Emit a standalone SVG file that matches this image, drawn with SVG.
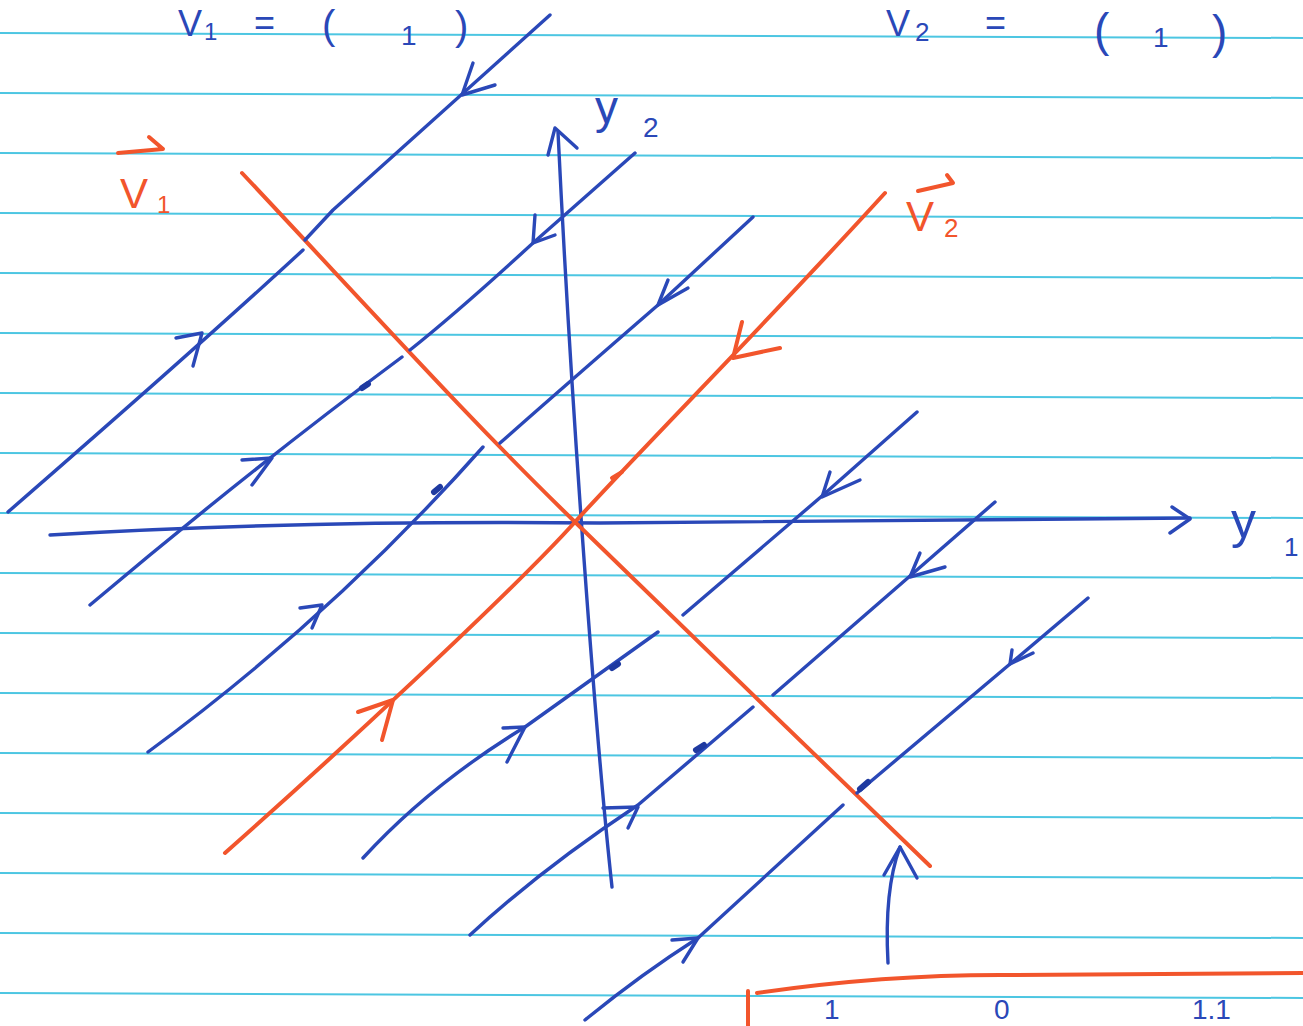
<svg xmlns="http://www.w3.org/2000/svg" width="1303" height="1026" viewBox="0 0 1303 1026">
<style>
.rule{stroke:#4cc6e2;stroke-width:2;fill:none}
.b{stroke:#2a48b8;stroke-width:3.4;fill:none;stroke-linecap:round;stroke-linejoin:round}
.o{stroke:#f2552c;stroke-width:4;fill:none;stroke-linecap:round;stroke-linejoin:round}
.dot{stroke:#1f3aa0;stroke-width:6;stroke-linecap:round;fill:none}
.tb{font-family:"Liberation Sans",Arial,sans-serif;fill:#2a48b8}
.to{font-family:"Liberation Sans",Arial,sans-serif;fill:#f2552c}
</style>
<rect width="1303" height="1026" fill="#ffffff"/>
<g id="ruled-paper">
<path class="rule" d="M0,33 L1303,38"/>
<path class="rule" d="M0,93 L1303,98"/>
<path class="rule" d="M0,153 L1303,158"/>
<path class="rule" d="M0,213 L1303,218"/>
<path class="rule" d="M0,273 L1303,278"/>
<path class="rule" d="M0,333 L1303,338"/>
<path class="rule" d="M0,393 L1303,398"/>
<path class="rule" d="M0,453 L1303,458"/>
<path class="rule" d="M0,513 L1303,518"/>
<path class="rule" d="M0,573 L1303,578"/>
<path class="rule" d="M0,633 L1303,638"/>
<path class="rule" d="M0,693 L1303,698"/>
<path class="rule" d="M0,753 L1303,758"/>
<path class="rule" d="M0,813 L1303,818"/>
<path class="rule" d="M0,873 L1303,878"/>
<path class="rule" d="M0,933 L1303,938"/>
<path class="rule" d="M0,993 L1303,998"/>
</g>
<g id="header-text">
<text class="tb" x="178" y="36" font-size="36">V</text>
<text class="tb" x="204" y="40" font-size="24">1</text>
<text class="tb" x="254" y="35" font-size="36">=</text>
<text class="tb" x="322" y="39" font-size="40">(</text>
<text class="tb" x="401" y="45" font-size="28">1</text>
<text class="tb" x="455" y="40" font-size="40">)</text>
<text class="tb" x="886" y="36" font-size="36">V</text>
<text class="tb" x="915" y="41" font-size="26">2</text>
<text class="tb" x="985" y="35" font-size="36">=</text>
<text class="tb" x="1094" y="46" font-size="46">(</text>
<text class="tb" x="1153" y="47" font-size="28">1</text>
<text class="tb" x="1212" y="48" font-size="46">)</text>
</g>
<g id="axes">
<g id="axis-y1">
<path class="b" d="M50,535 Q300,520 600,523 L1190,518"/>
<path class="b" d="M1172,507 L1190,519 L1170,533"/>
<text class="tb" x="1231" y="538" font-size="50">y</text>
<text class="tb" x="1284" y="556" font-size="26">1</text>
</g>
<g id="axis-y2">
<path class="b" d="M612,887 C596,740 572,420 558,132"/>
<path class="b" d="M548,155 L555,128 L577,148"/>
<text class="tb" x="595" y="123" font-size="46">y</text>
<text class="tb" x="643" y="137" font-size="28">2</text>
</g>
</g>
<g id="eigenvectors">
<g id="v1-line">
<path class="o" d="M242,173 C380,320 470,420 575,522 S820,760 930,866"/>
<path class="o" d="M118,153 L163,149 L149,137"/>
<text class="to" x="120" y="208" font-size="42">V</text>
<text class="to" x="157" y="213" font-size="24">1</text>
</g>
<g id="v2-line">
<path class="o" d="M885,193 C760,330 640,450 575,522 S330,760 225,853"/>
<path class="o" d="M742,322 L733,358 L780,348"/>
<path class="o" d="M358,712 L393,700 L382,740"/>
<path class="o" d="M612,478 L622,472"/>
<path class="o" d="M918,191 L953,183 L947,175"/>
<text class="to" x="906" y="231" font-size="42">V</text>
<text class="to" x="944" y="237" font-size="26">2</text>
</g>
</g>
<g id="connectors">
<g id="traj-A"><path class="b" d="M550,15 L333,210 L305,240"/><path class="b" d="M473,63 L462,95 L495,85"/></g>
<g id="traj-B"><path class="b" d="M8,512 Q200,345 303,250"/><path class="b" d="M176,338 L202,333 L193,366"/></g>
<g id="traj-C"><path class="b" d="M635,153 L533,243 Q460,310 410,350"/><path class="b" d="M535,215 L533,243 L555,235"/></g>
<g id="traj-D"><path class="b" d="M90,605 Q250,470 402,357"/><path class="b" d="M242,460 L272,458 L252,485"/><path class="dot" d="M362,388 L368,384"/></g>
<g id="traj-E"><path class="b" d="M753,217 L658,305 Q560,390 500,443"/><path class="b" d="M668,280 L658,305 L688,288"/></g>
<g id="traj-F"><path class="b" d="M148,752 Q332,617 483,447"/><path class="b" d="M300,608 L322,605 L312,628"/><path class="dot" d="M434,492 L440,487"/></g>
<g id="traj-G"><path class="b" d="M917,412 L822,496 L683,615"/><path class="b" d="M830,472 L822,497 L860,480"/></g>
<g id="traj-H"><path class="b" d="M363,858 Q430,785 525,727 L658,632"/><path class="b" d="M503,728 L525,727 L507,762"/><path class="dot" d="M612,668 L618,664"/></g>
<g id="traj-I"><path class="b" d="M995,502 L910,576 L773,695"/><path class="b" d="M920,553 L910,577 L945,567"/></g>
<g id="traj-J"><path class="b" d="M470,935 Q540,870 638,805 L753,707"/><path class="b" d="M603,808 L638,807 L628,828"/><path class="dot" d="M696,750 L704,745"/></g>
<g id="traj-K"><path class="b" d="M1088,598 L1010,664 L857,793"/><path class="b" d="M1012,650 L1010,664 L1033,653"/><path class="dot" d="M860,789 L868,782"/></g>
<g id="traj-L"><path class="b" d="M585,1020 Q640,975 698,938 L843,805"/><path class="b" d="M672,940 L698,938 L683,962"/></g>
<g id="pointer"><path class="b" d="M888,963 Q884,890 900,847"/><path class="b" d="M884,875 L900,847 L917,878"/></g>
</g>
<g id="footer">
<path class="o" d="M757,993 Q880,975 1000,975 L1303,973"/>
<path class="o" d="M748,991 L748,1026"/>
<text class="tb" x="824" y="1019" font-size="28">1</text>
<text class="tb" x="994" y="1019" font-size="28">0</text>
<text class="tb" x="1192" y="1019" font-size="28">1.1</text>
</g>
</svg>
